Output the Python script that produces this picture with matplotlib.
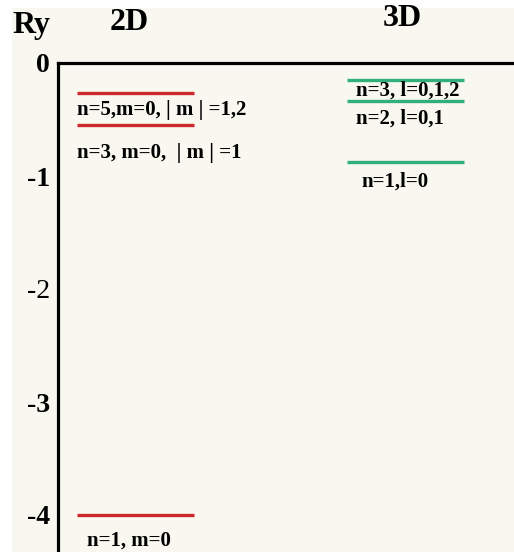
import numpy as np
import matplotlib.pyplot as plt
from matplotlib.patches import Rectangle

# energy levels (Ry)
levels_2d = [-0.265, -0.55, -4.0]
levels_3d = [-0.15, -0.34, -0.88]
labels_2d = ["n=5,m=0, | m | =1,2", "n=3, m=0,  | m | =1", "n=1, m=0"]
labels_3d = ["n=3, l=0,1,2", "n=2, l=0,1", "n=1,l=0"]
ticks = [0, -1, -2, -3, -4]
tick_labels = ["0", "-1", "-2", "-3", "-4"]

red = "#cc2a2a"
green = "#2fb07a"
bg = "#f9f8f0"

fig = plt.figure(figsize=(5.14, 5.52), dpi=100)
fig.patch.set_facecolor("white")
# cream area (thin white margin at top and left)
fig.patches.append(Rectangle((12/514, 0), 1, 1 - 8/552, transform=fig.transFigure,
                             facecolor=bg, edgecolor="none", zorder=-1))

ax = fig.add_axes([58/514, 0, 1 - 58/514, 1 - 63/552])
ax.set_facecolor(bg)
ax.set_xlim(0, 1)
ax.set_ylim(-(552 - 63)/113, 0)

for s in ["right", "bottom"]:
    ax.spines[s].set_visible(False)
ax.spines["left"].set_linewidth(2.3)
ax.spines["top"].set_linewidth(2.3)
ax.set_xticks([])
ax.set_yticks(ticks)
ax.set_yticklabels(tick_labels)
ax.tick_params(axis="y", length=0, pad=6)
for t in ax.get_yticklabels():
    t.set_fontfamily("Liberation Serif")
    t.set_fontsize(20)
    t.set_fontweight("normal" if t.get_text() == "-2" else "bold")

# columns: 2D on the left, 3D on the right
x2, x3, w = 0.042, 0.634, 0.257
ax.hlines(levels_2d, x2, x2 + w, color=red, lw=2.4)
ax.hlines(levels_3d, x3, x3 + w, color=green, lw=2.4)

font = dict(family="Liberation Serif", weight="bold", fontsize=15)
offs_2d = [(0, -17), (0, -28), (10, -26)]
offs_3d = [(9, -11), (9, -17), (14, -19)]
for y, lab, o in zip(levels_2d, labels_2d, offs_2d):
    ax.annotate(lab, xy=(x2, y), xytext=o, textcoords="offset pixels",
                ha="left", va="center", **font)
for y, lab, o in zip(levels_3d, labels_3d, offs_3d):
    ax.annotate(lab, xy=(x3, y), xytext=o, textcoords="offset pixels",
                ha="left", va="center", **font)

title_font = dict(family="Liberation Serif", weight="bold", fontsize=23,
                  ha="center", va="center")
fig.text(31/514, 1 - 26/552, "Ry", **title_font)
fig.text(129/514, 1 - 22/552, "2D", **title_font)
fig.text(402/514, 1 - 19/552, "3D", **title_font)

fig.savefig("out.png", dpi=100, facecolor=fig.get_facecolor())
